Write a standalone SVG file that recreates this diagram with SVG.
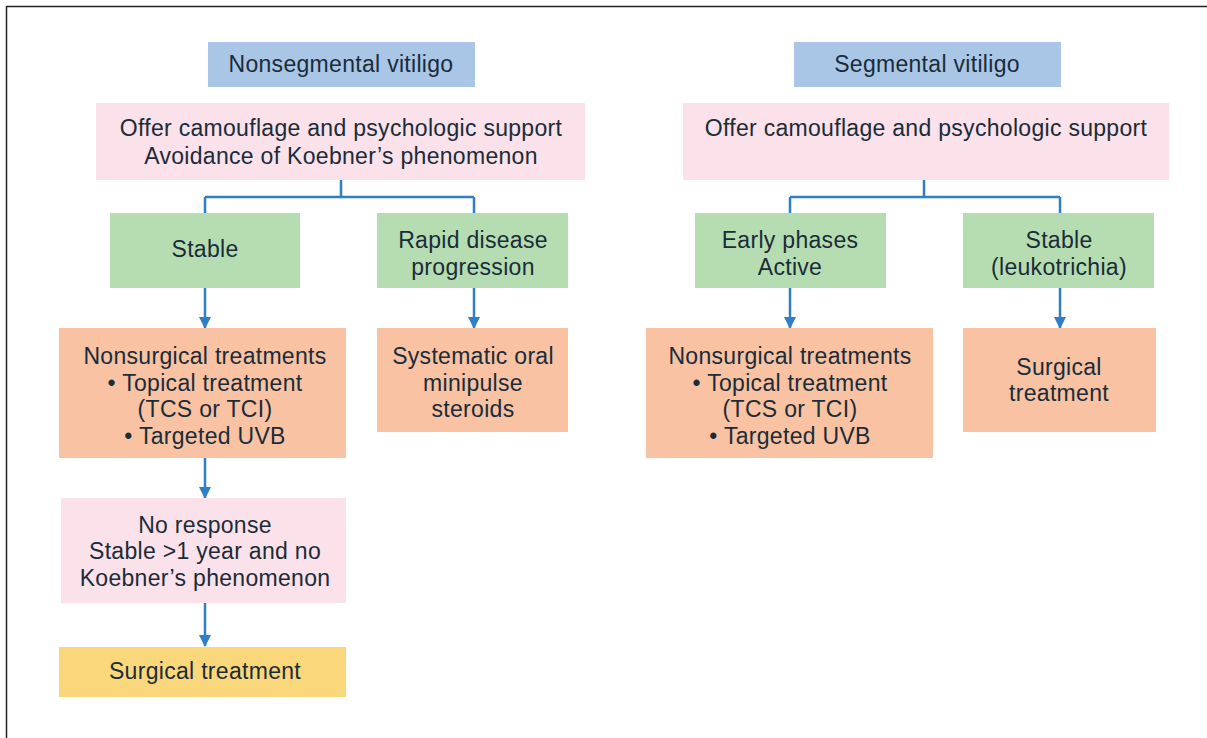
<svg xmlns="http://www.w3.org/2000/svg" width="1207" height="738" viewBox="0 0 1207 738">
<defs>
<style>
text{font-family:"Liberation Sans",Arial,sans-serif;font-size:23px;fill:#1a2c38;text-anchor:middle;letter-spacing:0.3px}
.blue{fill:#a9c6e6}
.pink{fill:#fbe1ea}
.green{fill:#b6ddb2}
.orange{fill:#f8c2a3}
.yellow{fill:#fbd77c}
.conn{stroke:#2f7fc8;stroke-width:2.5;fill:none}
.arr{stroke:#2f7fc8;stroke-width:2.5;fill:none;marker-end:url(#ah)}
</style>
<marker id="ah" viewBox="0 0 12 12" refX="11" refY="6" markerWidth="12" markerHeight="12" markerUnits="userSpaceOnUse" orient="auto">
<path d="M0,0 L12,6 L0,12 z" fill="#2f7fc8"/>
</marker>
</defs>
<rect x="0" y="0" width="1207" height="738" fill="#ffffff"/>
<path d="M6.5,738 V6.5 H1207" stroke="#222" stroke-width="1.5" fill="none"/>

<g id="connectors">
<path class="conn" d="M341,180 V197 M205,197 H474"/>
<path class="conn" d="M205,197 V213"/>
<path class="conn" d="M474,197 V213"/>
<path class="arr" d="M205,288 V328"/>
<path class="arr" d="M474,288 V328"/>
<path class="arr" d="M205,458 V498"/>
<path class="arr" d="M205,603 V646"/>
<path class="conn" d="M924,180 V197 M790,197 H1060"/>
<path class="conn" d="M790,197 V213"/>
<path class="conn" d="M1060,197 V213"/>
<path class="arr" d="M790,288 V328"/>
<path class="arr" d="M1060,288 V328"/>
</g>

<g id="n-nonseg"><rect class="blue" x="208" y="42" width="267" height="45"/><text x="341" y="72">Nonsegmental vitiligo</text></g>
<g id="n-offer1"><rect class="pink" x="96" y="103" width="489" height="77"/><text x="341" y="136">Offer camouflage and psychologic support</text><text x="341" y="164">Avoidance of Koebner’s phenomenon</text></g>
<g id="n-stable1"><rect class="green" x="110" y="213" width="190" height="75"/><text x="205" y="257">Stable</text></g>
<g id="n-rapid"><rect class="green" x="377" y="213" width="191" height="75"/><text x="473" y="248">Rapid disease</text><text x="473" y="275">progression</text></g>
<g id="n-nonsurg1"><rect class="orange" x="59" y="328" width="287" height="130"/><text x="205" y="364">Nonsurgical treatments</text><text x="205" y="391">• Topical treatment</text><text x="205" y="417">(TCS or TCI)</text><text x="205" y="444">• Targeted UVB</text></g>
<g id="n-systematic"><rect class="orange" x="377" y="328" width="191" height="104"/><text x="473" y="364">Systematic oral</text><text x="473" y="391">minipulse</text><text x="473" y="417">steroids</text></g>
<g id="n-noresp"><rect class="pink" x="61" y="498" width="285" height="105"/><text x="205" y="533">No response</text><text x="205" y="559">Stable &gt;1 year and no</text><text x="205" y="586">Koebner’s phenomenon</text></g>
<g id="n-surg1"><rect class="yellow" x="59" y="647" width="287" height="50"/><text x="205" y="679">Surgical treatment</text></g>

<g id="n-seg"><rect class="blue" x="794" y="42" width="267" height="45"/><text x="927" y="72">Segmental vitiligo</text></g>
<g id="n-offer2"><rect class="pink" x="683" y="103" width="486" height="77"/><text x="926" y="136">Offer camouflage and psychologic support</text></g>
<g id="n-early"><rect class="green" x="695" y="213" width="191" height="75"/><text x="790" y="248">Early phases</text><text x="790" y="275">Active</text></g>
<g id="n-stable2"><rect class="green" x="963" y="213" width="191" height="75"/><text x="1059" y="248">Stable</text><text x="1059" y="275">(leukotrichia)</text></g>
<g id="n-nonsurg2"><rect class="orange" x="646" y="328" width="287" height="130"/><text x="790" y="364">Nonsurgical treatments</text><text x="790" y="391">• Topical treatment</text><text x="790" y="417">(TCS or TCI)</text><text x="790" y="444">• Targeted UVB</text></g>
<g id="n-surg2"><rect class="orange" x="963" y="328" width="193" height="104"/><text x="1059" y="375">Surgical</text><text x="1059" y="401">treatment</text></g>
</svg>
